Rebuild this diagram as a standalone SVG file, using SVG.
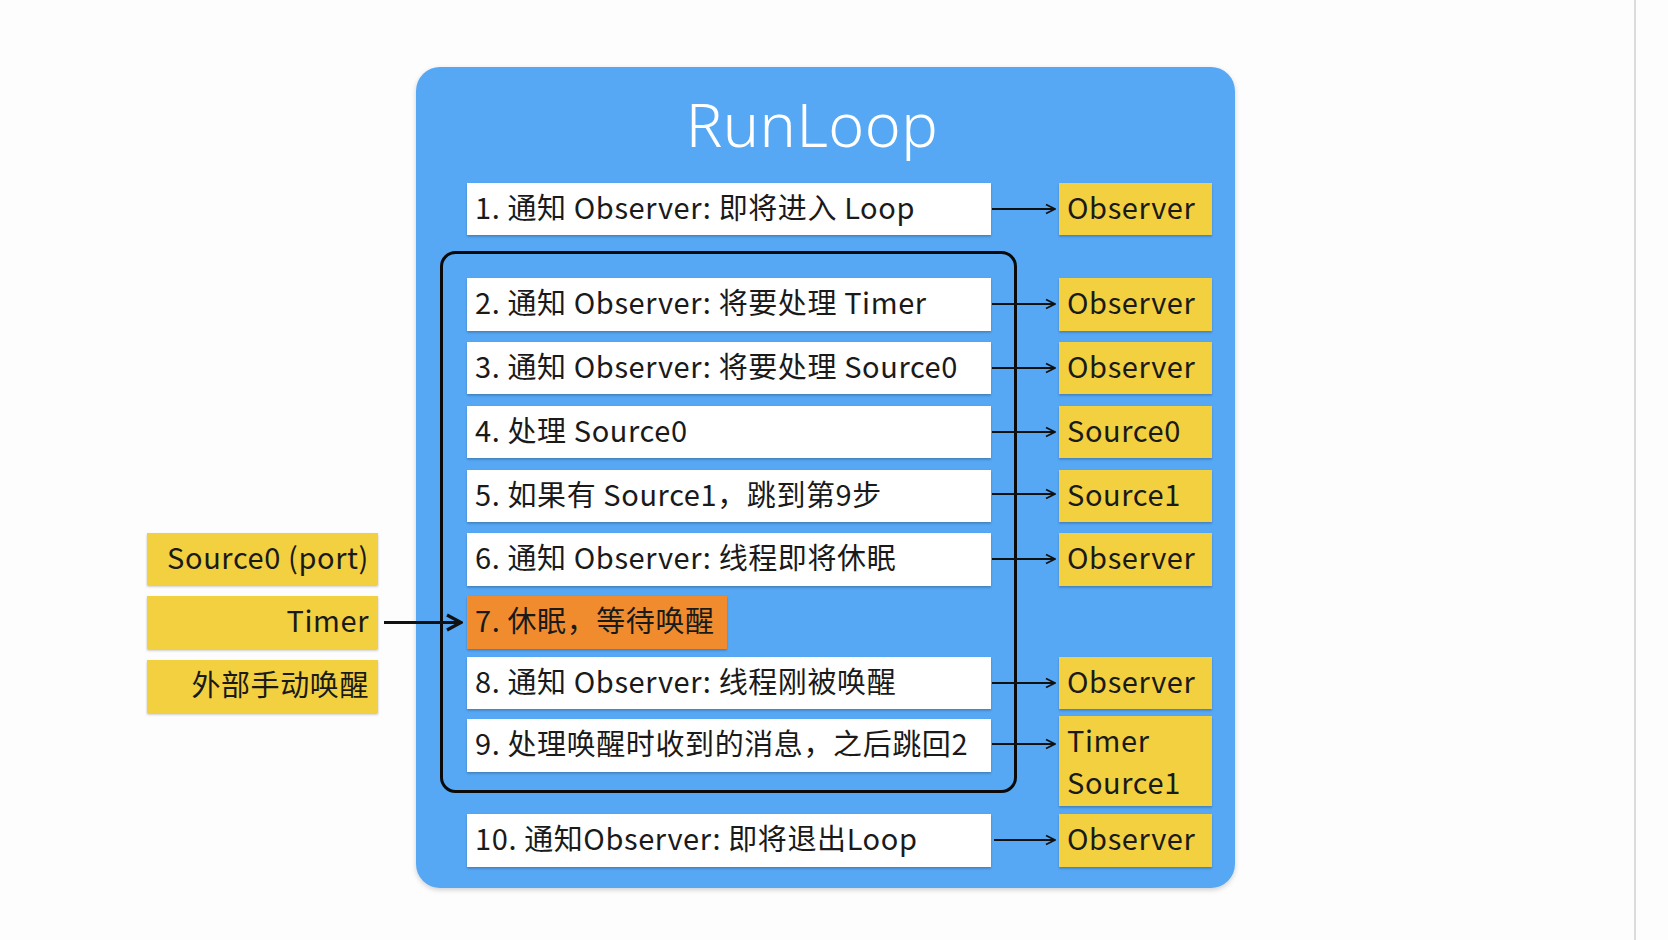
<svg xmlns="http://www.w3.org/2000/svg" width="1668" height="940" viewBox="0 0 1668 940">
<defs>
<filter id="sh" x="-5%" y="-10%" width="110%" height="130%">
<feDropShadow dx="0" dy="1.5" stdDeviation="1.2" flood-color="#000" flood-opacity="0.25"/>
</filter>
<filter id="bsh" x="-3%" y="-3%" width="106%" height="106%">
<feDropShadow dx="0" dy="2" stdDeviation="2.5" flood-color="#000" flood-opacity="0.18"/>
</filter>
<marker id="ah" viewBox="0 0 12 12" refX="11" refY="6" markerWidth="12" markerHeight="12" markerUnits="userSpaceOnUse" orient="auto">
<path d="M2,1.5 L11,6 L2,10.5" fill="none" stroke="#111" stroke-width="1.8"/>
</marker>
<marker id="ahb" viewBox="0 0 20 20" refX="18" refY="10" markerWidth="20" markerHeight="20" markerUnits="userSpaceOnUse" orient="auto">
<path d="M4,2.5 L18,10 L4,17.5" fill="none" stroke="#111" stroke-width="3.2"/>
</marker>
</defs>
<style>
.t{font-family:"Noto Sans CJK SC","Noto Sans",sans-serif;font-size:29px;letter-spacing:0.6px;fill:#1a1a1a}
.step{fill:#ffffff;filter:url(#sh)}
.yel{fill:#F2D03F;filter:url(#sh)}
.org{fill:#F08C2E;filter:url(#sh)}
.c{stroke:#111;stroke-width:1.8;fill:none;marker-end:url(#ah)}
</style>
<rect width="1668" height="940" fill="#fdfdfd"/>
<rect x="1634" y="0" width="2" height="940" fill="#dcdcdc"/>

<g id="runloop">
<rect x="416" y="67" width="819" height="821" rx="24" fill="#56A8F5" filter="url(#bsh)"/>
<text x="812" y="147" text-anchor="middle" style="font-family:'Noto Sans',sans-serif;font-size:61px;letter-spacing:0.5px;fill:#ffffff;font-weight:300">RunLoop</text>
</g>

<g id="loop-frame">
<rect x="441.5" y="252.5" width="574" height="539" rx="14" fill="none" stroke="#0a0a0a" stroke-width="3"/>
</g>

<g id="step1"><rect class="step" x="467" y="183" width="524" height="52"/><text class="t" x="475" y="219">1. 通知 Observer: 即将进入 Loop</text></g>
<g id="step2"><rect class="step" x="467" y="278" width="524" height="53"/><text class="t" x="475" y="314">2. 通知 Observer: 将要处理 Timer</text></g>
<g id="step3"><rect class="step" x="467" y="342" width="524" height="52"/><text class="t" x="475" y="378">3. 通知 Observer: 将要处理 Source0</text></g>
<g id="step4"><rect class="step" x="467" y="406" width="524" height="52"/><text class="t" x="475" y="442">4. 处理 Source0</text></g>
<g id="step5"><rect class="step" x="467" y="470" width="524" height="52"/><text class="t" x="475" y="506">5. 如果有 Source1，跳到第9步</text></g>
<g id="step6"><rect class="step" x="467" y="533" width="524" height="53"/><text class="t" x="475" y="569">6. 通知 Observer: 线程即将休眠</text></g>
<g id="step7"><rect class="org" x="467" y="596" width="260" height="53"/><text class="t" x="475" y="632">7. 休眠，等待唤醒</text></g>
<g id="step8"><rect class="step" x="467" y="657" width="524" height="52"/><text class="t" x="475" y="693">8. 通知 Observer: 线程刚被唤醒</text></g>
<g id="step9"><rect class="step" x="467" y="719" width="524" height="53"/><text class="t" x="475" y="755">9. 处理唤醒时收到的消息，之后跳回2</text></g>
<g id="step10"><rect class="step" x="467" y="814" width="524" height="53"/><text class="t" x="475" y="850">10. 通知Observer: 即将退出Loop</text></g>

<g id="out1"><rect class="yel" x="1059" y="183" width="153" height="52"/><text class="t" x="1067" y="219">Observer</text></g>
<g id="out2"><rect class="yel" x="1059" y="278" width="153" height="53"/><text class="t" x="1067" y="314">Observer</text></g>
<g id="out3"><rect class="yel" x="1059" y="342" width="153" height="52"/><text class="t" x="1067" y="378">Observer</text></g>
<g id="out4"><rect class="yel" x="1059" y="406" width="153" height="52"/><text class="t" x="1067" y="442">Source0</text></g>
<g id="out5"><rect class="yel" x="1059" y="470" width="153" height="52"/><text class="t" x="1067" y="506">Source1</text></g>
<g id="out6"><rect class="yel" x="1059" y="533" width="153" height="53"/><text class="t" x="1067" y="569">Observer</text></g>
<g id="out8"><rect class="yel" x="1059" y="657" width="153" height="52"/><text class="t" x="1067" y="693">Observer</text></g>
<g id="out9"><rect class="yel" x="1059" y="716" width="153" height="90"/><text class="t" x="1067" y="752">Timer</text><text class="t" x="1067" y="794">Source1</text></g>
<g id="out10"><rect class="yel" x="1059" y="814" width="153" height="53"/><text class="t" x="1067" y="850">Observer</text></g>

<g id="src-port"><rect class="yel" x="147" y="533" width="231" height="52"/><text class="t" x="369" y="569" text-anchor="end">Source0 (port)</text></g>
<g id="src-timer"><rect class="yel" x="147" y="596" width="231" height="53"/><text class="t" x="369" y="632" text-anchor="end">Timer</text></g>
<g id="src-manual"><rect class="yel" x="147" y="660" width="231" height="53"/><text class="t" x="369" y="696" text-anchor="end">外部手动唤醒</text></g>

<g id="connectors">
<line class="c" x1="992" y1="209" x2="1055" y2="209"/>
<line class="c" x1="992" y1="304" x2="1055" y2="304"/>
<line class="c" x1="992" y1="368" x2="1055" y2="368"/>
<line class="c" x1="992" y1="432" x2="1055" y2="432"/>
<line class="c" x1="992" y1="494" x2="1055" y2="494"/>
<line class="c" x1="992" y1="559" x2="1055" y2="559"/>
<line class="c" x1="992" y1="683" x2="1055" y2="683"/>
<line class="c" x1="992" y1="744" x2="1055" y2="744"/>
<line class="c" x1="994" y1="840" x2="1055" y2="840"/>
<line x1="384" y1="622.5" x2="461" y2="622.5" stroke="#111" stroke-width="3.2" marker-end="url(#ahb)"/>
</g>
</svg>
